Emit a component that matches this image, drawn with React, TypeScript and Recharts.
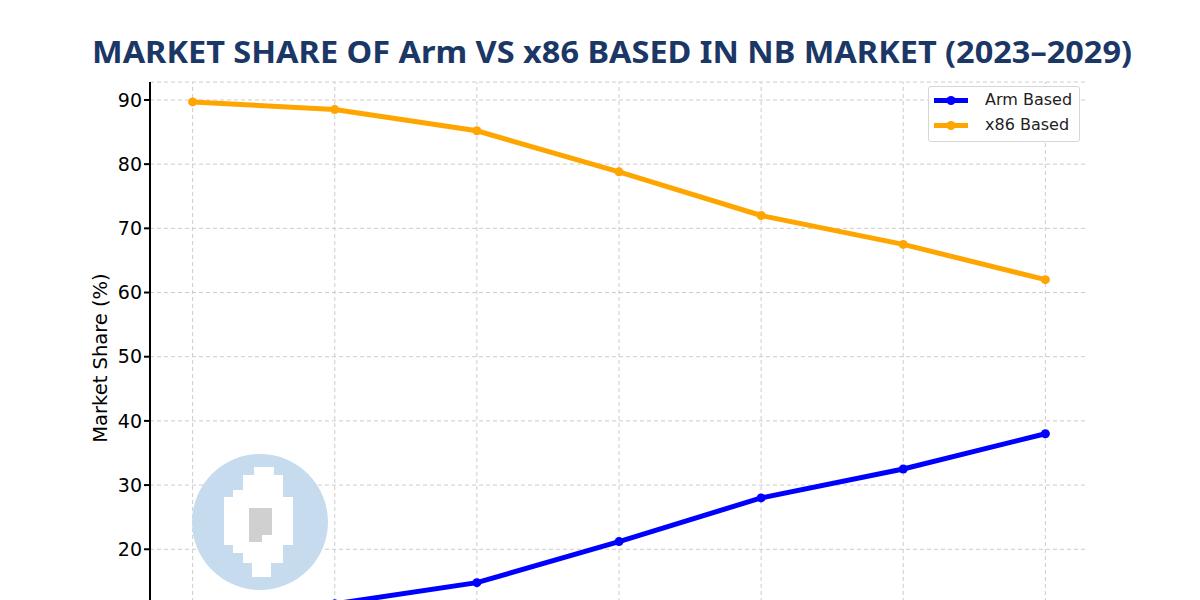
import { LineChart, Line, XAxis, YAxis, CartesianGrid, Legend, ReferenceLine } from 'recharts';

const YEARS = [2023, 2024, 2025, 2026, 2027, 2028, 2029];
const ARM = [10.3, 11.5, 14.8, 21.2, 28.0, 32.5, 38.0];
const X86 = [89.7, 88.5, 85.2, 78.8, 72.0, 67.5, 62.0];
const Y_TICKS = [20, 30, 40, 50, 60, 70, 80, 90];

const BLUE = '#0000ff';
const ORANGE = '#ffa500';
const NAVY = '#1b3766';
const GRID = '#cccccc';
const FONT = '"DejaVu Sans", sans-serif';

const data = YEARS.map((year, i) => ({ year, arm: ARM[i], x86: X86[i] }));

const SERIES = [
  { name: 'Arm Based', color: BLUE },
  { name: 'x86 Based', color: ORANGE },
];

function LegendBox() {
  return (
    <div
      style={{
        width: 152,
        height: 56,
        background: '#fff',
        border: '1px solid #d6d6d6',
        borderRadius: 3,
        boxSizing: 'border-box',
        fontFamily: FONT,
        fontSize: 16,
        color: '#222',
        paddingTop: 1,
      }}
    >
      {SERIES.map((s) => (
        <div key={s.name} style={{ position: 'relative', height: 25 }}>
          <svg width={40} height={25} style={{ position: 'absolute', left: 3, top: 0 }}>
            <line x1={2} x2={36} y1={12.5} y2={12.5} stroke={s.color} strokeWidth={5} />
            <circle cx={19} cy={12.5} r={4.5} fill={s.color} />
          </svg>
          <span style={{ position: 'absolute', left: 56, top: 2, whiteSpace: 'nowrap' }}>{s.name}</span>
        </div>
      ))}
    </div>
  );
}

// year labels sit below the visible area in the original, so draw nothing
const HiddenTick = () => <g />;

// watermark shape, page pixels
const WATERMARK = '254,467 274,467 274,475 283,475 283,497 293,497 293,545 283,545 283,563 271,563 271,577 252,577 252,563 243,563 243,553 233,553 233,545 224,545 224,497 233,497 233,490 243,490 243,475 254,475';

export default function App() {
  return (
    <div style={{ position: 'absolute', left: 0, top: 0, width: 1200, height: 600, overflow: 'hidden', background: '#fff', fontFamily: FONT }}>
      <LineChart width={1200} height={700} data={data} margin={{ top: 82, right: 112, bottom: 33, left: 0 }}>
        <CartesianGrid stroke={GRID} strokeDasharray="4 3" strokeWidth={1} vertical={false} />
        {/* vertical grid at the years only */}
        {YEARS.map((y) => (
          <ReferenceLine key={y} x={y} stroke={GRID} strokeDasharray="4 3" strokeWidth={1} />
        ))}
        <XAxis
          dataKey="year"
          type="number"
          domain={[2022.7, 2029.3]}
          ticks={YEARS}
          allowDataOverflow
          height={30}
          tick={HiddenTick}
          stroke="#000"
        />
        <YAxis
          type="number"
          domain={[6.33, 92.8]}
          ticks={Y_TICKS}
          allowDataOverflow
          width={150}
          tickSize={6}
          tick={{ fill: '#000', fontSize: 19, fontFamily: FONT }}
          stroke="#000"
          strokeWidth={2}
        />
        <Legend
          layout="vertical"
          align="center"
          verticalAlign="middle"
          content={() => <LegendBox />}
          wrapperStyle={{ left: 928, top: 86, width: 152, height: 56 }}
        />
        <Line
          dataKey="arm"
          name="Arm Based"
          stroke={BLUE}
          strokeWidth={5}
          dot={{ r: 4.5, fill: BLUE, stroke: BLUE, strokeWidth: 0 }}
          isAnimationActive={false}
        />
        <Line
          dataKey="x86"
          name="x86 Based"
          stroke={ORANGE}
          strokeWidth={5}
          dot={{ r: 4.5, fill: ORANGE, stroke: ORANGE, strokeWidth: 0 }}
          isAnimationActive={false}
        />
      </LineChart>
      <svg width={1200} height={600} style={{ position: 'absolute', left: 0, top: 0, pointerEvents: 'none' }}>
        <text
          x={612}
          y={63}
          textAnchor="middle"
          fill={NAVY}
          fontFamily='"Noto Sans", sans-serif'
          fontWeight={700}
          fontSize={31}
          textLength={1040}
          lengthAdjust="spacingAndGlyphs"
        >
          MARKET SHARE OF Arm VS x86 BASED IN NB MARKET (2023–2029)
        </text>
        <text
          x={0}
          y={0}
          transform="translate(107 358) rotate(-90)"
          textAnchor="middle"
          fill="#000"
          fontFamily={FONT}
          fontSize={19.5}
        >
          Market Share (%)
        </text>
        <circle cx={260} cy={522} r={68} fill="#c6dcee" />
        <polygon points={WATERMARK} fill="#fff" />
        <polygon points="249,508 272,508 272,535 262,535 262,542 249,542" fill="#d0d0d0" />
      </svg>
    </div>
  );
}
